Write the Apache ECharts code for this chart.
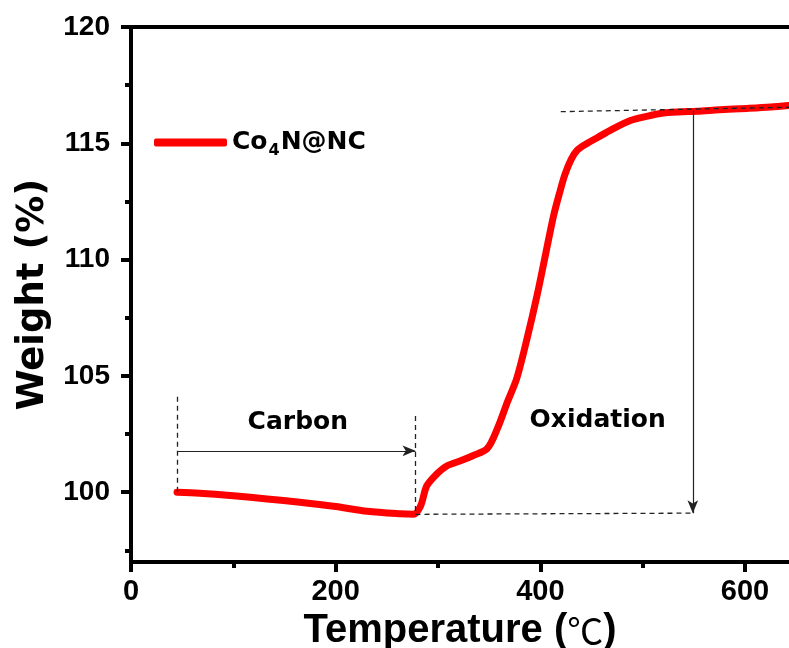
<!DOCTYPE html>
<html>
<head>
<meta charset="utf-8">
<script src="https://cdn.jsdelivr.net/npm/echarts@6/dist/echarts.min.js"></script>
<style>
html, body { margin: 0; padding: 0; background: #fff; }
#chart { width: 789px; height: 648px; }
</style>
</head>
<body>
<div id="chart"></div>
<script>
// TGA curve
var temps = [45, 67, 100, 133, 165, 198, 231, 263, 276, 283, 289, 299, 309, 322, 334, 348, 358, 368, 377, 387, 397, 405, 413, 419, 424, 430, 436, 446, 456, 470, 488, 505, 520, 535, 553, 575, 602, 625, 643];
var weights = [100.0, 99.96, 99.85, 99.71, 99.57, 99.4, 99.18, 99.07, 99.05, 99.41, 100.27, 100.79, 101.14, 101.35, 101.57, 101.87, 102.73, 103.9, 104.9, 106.6, 108.5, 110.2, 111.9, 112.9, 113.65, 114.3, 114.7, 115.0, 115.25, 115.6, 115.98, 116.17, 116.3, 116.35, 116.38, 116.44, 116.5, 116.56, 116.63];

var yLabels = [100, 105, 110, 115, 120];
var yMinor = [97.5, 102.5, 107.5, 112.5, 117.5];
var xLabels = [0, 200, 400, 600];
var xMinor = [100, 300, 500];

// guide lines [x1, y1, x2, y2]
var dashedLines = [
	[45, 104.1, 45, 100.0],
	[278, 103.28, 278, 99.05],
	[278, 99.05, 547, 99.1],
	[420, 116.36, 643, 116.55]
];
var arrowLines = [
	[45, 101.78, 278, 101.78],
	[549, 116.4, 549, 99.1]
];
var notes = [
	{ text: 'Carbon', x: 163, y: 103.0 },
	{ text: 'Oxidation', x: 456, y: 103.1 }
];

var font = 'DejaVu Sans, Arial, sans-serif';
var font2 = 'Liberation Sans, Arial, sans-serif';

var markData = [];
dashedLines.forEach(function (l) {
	markData.push([
		{ coord: [l[0], l[1]], symbol: 'none', lineStyle: { type: [5, 4], width: 1.3, color: '#222' } },
		{ coord: [l[2], l[3]], symbol: 'none' }
	]);
});
arrowLines.forEach(function (l) {
	markData.push([
		{ coord: [l[0], l[1]], symbol: 'none', lineStyle: { type: 'solid', width: 1.2, color: '#222' } },
		{ coord: [l[2], l[3]], symbol: 'arrow', symbolSize: [8, 13] }
	]);
});

var chart = echarts.init(document.getElementById('chart'));
var option = {
	animation: false,
	backgroundColor: '#fff',
	grid: { left: 131, right: 0, top: 27, bottom: 86, containLabel: false, outerBoundsMode: 'none' },
	legend: {
		left: 149,
		top: 125,
		icon: 'roundRect',
		itemWidth: 73,
		itemHeight: 8,
		data: ['Co4N@NC'],
		formatter: function () { return 'Co{s|4}N@NC'; },
		textStyle: {
			fontFamily: font, fontWeight: 'bold', fontSize: 25, color: '#000',
			rich: { s: { fontFamily: font, fontWeight: 'bold', fontSize: 16, color: '#000', padding: [17, 1, 0, 1] } }
		}
	},
	xAxis: [
		{
			type: 'value', min: 0, max: 643, position: 'bottom',
			name: 'Temperature ({c|℃})', nameLocation: 'middle', nameGap: 29,
			nameTextStyle: {
				fontFamily: font2, fontWeight: 'bold', fontSize: 40, color: '#000',
				rich: { c: { fontFamily: 'Noto Sans CJK SC', fontWeight: 'normal', fontSize: 36, color: '#000' } }
			},
			axisLine: { lineStyle: { color: '#000', width: 4 } },
			axisTick: { inside: false, length: 10, customValues: xLabels, lineStyle: { width: 4, color: '#000' } },
			axisLabel: { customValues: xLabels, margin: 15, fontFamily: font2, fontWeight: 'bold', fontSize: 29, color: '#000' },
			splitLine: { show: false }
		},
		{
			type: 'value', min: 0, max: 643, position: 'bottom',
			axisLine: { show: false },
			axisTick: { length: 6, customValues: xMinor, lineStyle: { width: 4, color: '#000' } },
			axisLabel: { show: false },
			splitLine: { show: false }
		},
		{
			type: 'value', min: 0, max: 643, position: 'top',
			axisLine: { lineStyle: { color: '#000', width: 4 } },
			axisTick: { show: false },
			axisLabel: { show: false },
			splitLine: { show: false }
		}
	],
	yAxis: [
		{
			type: 'value', min: 97, max: 120,
			name: 'Weight (%)', nameLocation: 'middle', nameGap: 76,
			nameTextStyle: { fontFamily: font, fontWeight: 'bold', fontSize: 37, color: '#000' },
			axisLine: { lineStyle: { color: '#000', width: 4 } },
			axisTick: { length: 10, customValues: yLabels, lineStyle: { width: 4, color: '#000' } },
			axisLabel: { customValues: yLabels, margin: 21, fontFamily: font2, fontWeight: 'bold', fontSize: 28, color: '#000' },
			splitLine: { show: false }
		},
		{
			type: 'value', min: 97, max: 120, position: 'left',
			axisLine: { show: false },
			axisTick: { length: 6, customValues: yMinor, lineStyle: { width: 4, color: '#000' } },
			axisLabel: { show: false },
			splitLine: { show: false }
		}
	],
	series: [
		{
			name: 'Co4N@NC',
			type: 'line',
			data: temps.map(function (t, i) { return [t, weights[i]]; }),
			smooth: 0.3,
			showSymbol: false,
			symbol: 'none',
			itemStyle: { color: '#ff0000' },
			lineStyle: { color: '#ff0000', width: 7, cap: 'round', join: 'round' },
			z: 3
		},
		{
			name: 'guides',
			type: 'line',
			data: [],
			markLine: {
				silent: true,
				animation: false,
				label: { show: false },
				data: markData
			},
			markPoint: {
				silent: true,
				symbol: 'circle',
				symbolSize: 0,
				label: {
					show: true, position: 'inside',
					fontFamily: font, fontWeight: 'bold', fontSize: 25, color: '#000',
					formatter: function (p) { return p.name; }
				},
				data: notes.map(function (n) { return { name: n.text, coord: [n.x, n.y] }; })
			}
		}
	]
};
chart.setOption(option);
</script>
</body>
</html>
